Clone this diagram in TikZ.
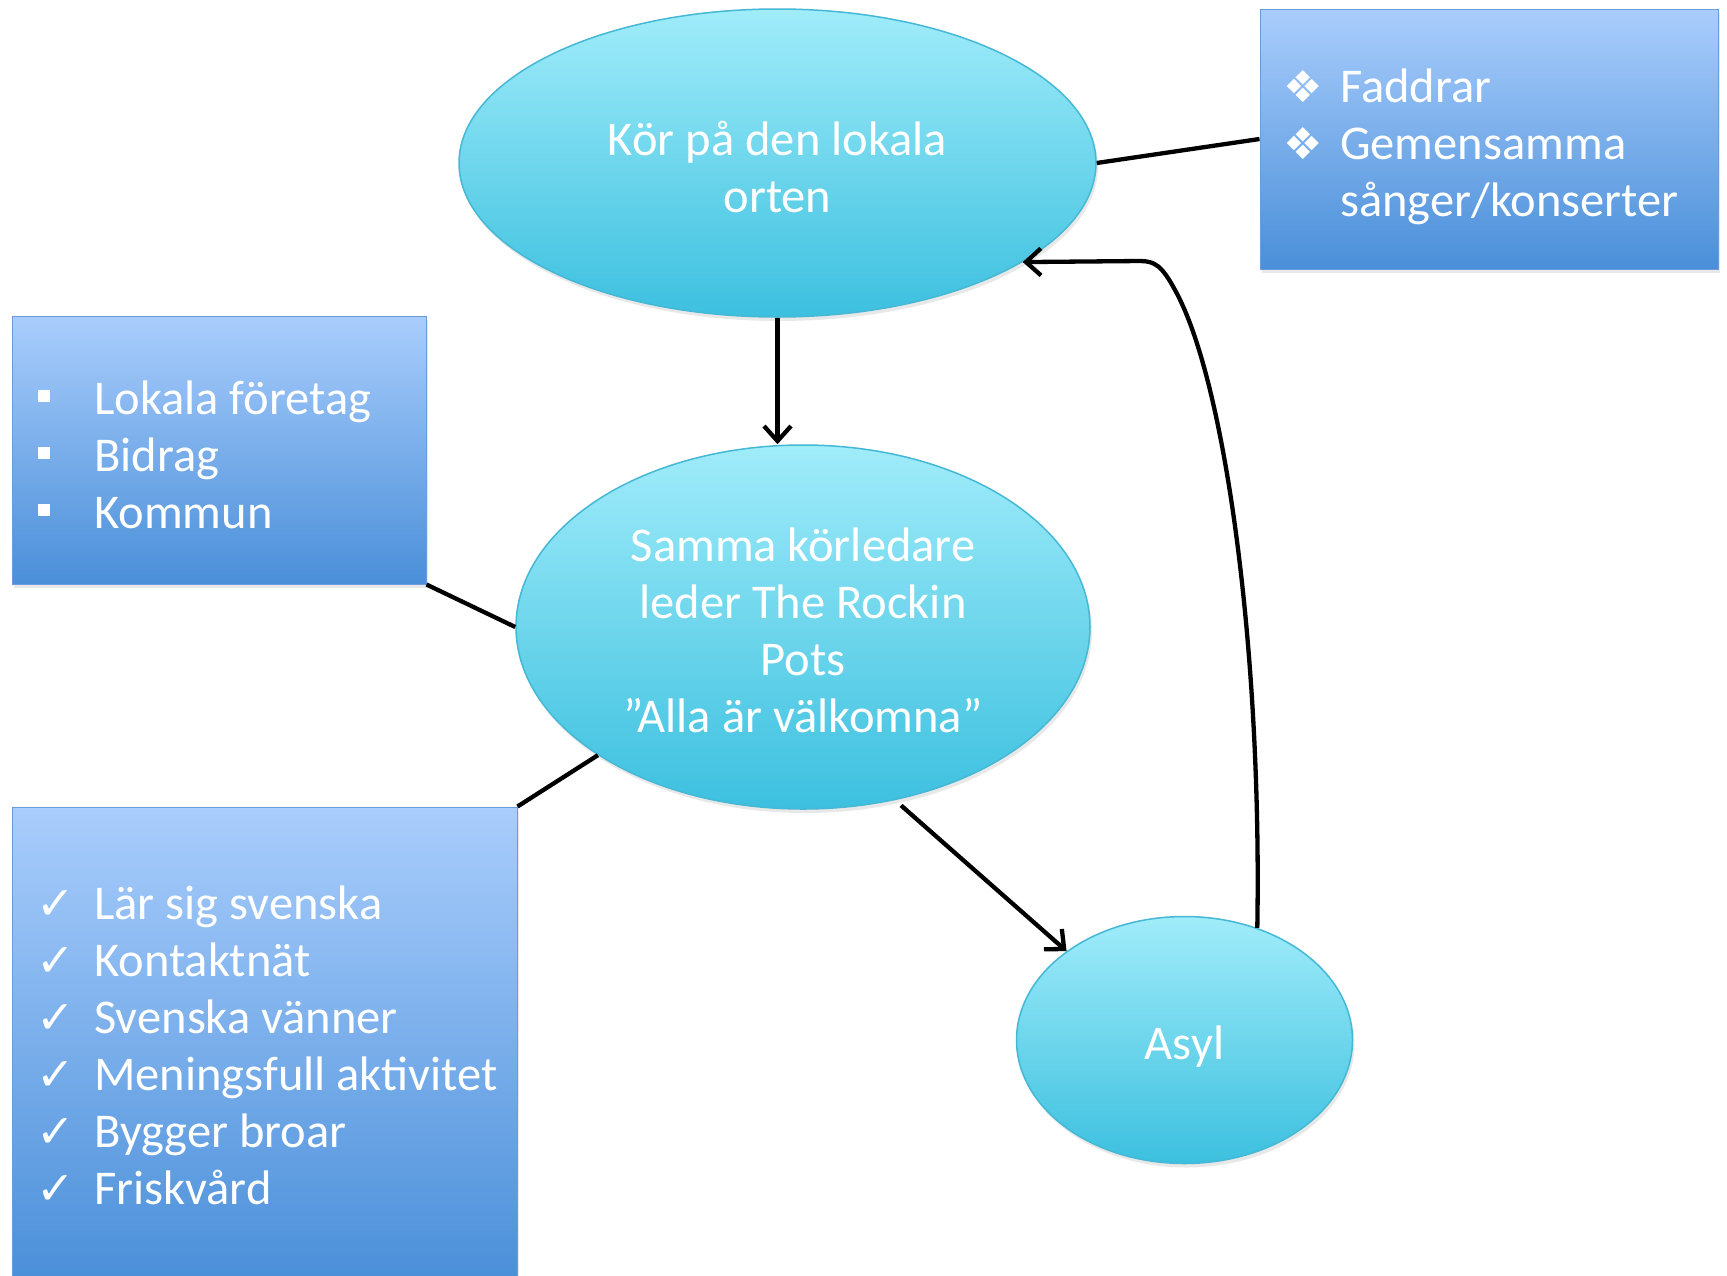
\documentclass[tikz,border=0pt]{standalone}
\usepackage{fontspec}
\setmainfont{Carlito}
\newfontfamily\dejavu{DejaVu Sans}
\usetikzlibrary{shapes.geometric,arrows.meta,shadows,calc}
\definecolor{elltop}{HTML}{A0ECFA}
\definecolor{ellbot}{HTML}{3CC0DF}
\definecolor{ellline}{HTML}{45B8D5}
\definecolor{boxtop}{HTML}{A9CDFC}
\definecolor{boxbot}{HTML}{4A8FD9}
\definecolor{boxline}{HTML}{6A9BDD}
\newcommand{\dia}{\makebox[57pt][l]{{\dejavu\fontsize{44}{57}\selectfont\char"2756}}}
\newcommand{\sqb}{\makebox[56pt][l]{\raisebox{12pt}{\rule{12pt}{12pt}}}}
\newcommand{\chk}{\makebox[58pt][l]{{\dejavu\fontsize{46}{57}\selectfont\char"2713}}}
\tikzset{
  ell/.style={ellipse, draw=ellline, line width=1.5pt, top color=elltop, bottom color=ellbot,
    inner sep=0pt, drop shadow={opacity=0.18, shadow xshift=2pt, shadow yshift=-4pt}},
  elltext/.style={inner sep=0pt, text=white, font=\fontsize{48.5}{57}\selectfont, align=center},
  listbox/.style={rectangle, draw=boxline, line width=1pt, top color=boxtop, bottom color=boxbot,
    inner sep=0pt, drop shadow={opacity=0.18, shadow xshift=2pt, shadow yshift=-4pt}},
  listtext/.style={anchor=west, inner sep=0pt, text=white, font=\fontsize{48.5}{57}\selectfont, align=left},
  conn/.style={line width=4.3pt, black},
  arr/.style={conn, -{Straight Barb[length=15pt,width=27pt]}}
}
\begin{document}
\begin{tikzpicture}[x=1pt,y=-1pt]
\useasboundingbox[fill=white] (0,0) rectangle (1727,1275);
% ellipses
\node[ell, minimum width=637pt, minimum height=308pt,
  label={[elltext, yshift=-4pt]center:Kör på den lokala\\orten}] (top) at (777.5,163) {};
\node[ell, minimum width=574pt, minimum height=364pt,
  label={[elltext, yshift=-3pt]center:Samma körledare\\leder The Rockin\\Pots\\”Alla är välkomna”}] (mid) at (803,627) {};
\node[ell, minimum width=336pt, minimum height=247pt,
  label={[elltext, yshift=-7pt]center:Asyl}] (asyl) at (1184.5,1040) {};
% boxes
\node[listbox, minimum width=458pt, minimum height=260pt] (tr) at (1489,139) {};
\node[listtext] (trtext) at (1283,146.5) {\dia Faddrar\\\dia Gemensamma\\\hspace*{57pt}sånger/konserter};
\node[listbox, minimum width=414pt, minimum height=268pt] (lb) at (219,450) {};
\node[listtext] (lbtext) at (38,454.5) {\sqb Lokala företag\\\sqb Bidrag\\\sqb Kommun};
\node[listbox, minimum width=505pt, minimum height=476pt] (bb) at (264.5,1045) {};
\node[listtext] (bbtext) at (36,1045) {\chk Lär sig svenska\\\chk Kontaktnät\\\chk Svenska vänner\\\chk Meningsfull aktivitet\\\chk Bygger broar\\\chk Friskvård};
% connectors
\draw[conn] (top.east) -- (tr.west);
\draw[conn] (lb.south east) -- (mid.west);
\draw[conn] (bb.north east) -- (mid.212);
\draw[arr] (top.south) -- (top.south |- mid.north);
\draw[arr, shorten <=8pt] (mid.298) -- (asyl.143);
\draw[arr] (asyl.57) .. controls (1262,650) and (1225,380) .. (1175,290)
  .. controls (1162,266) and (1155,261) .. (1140,261) -- (top.338);
\end{tikzpicture}
\end{document}
